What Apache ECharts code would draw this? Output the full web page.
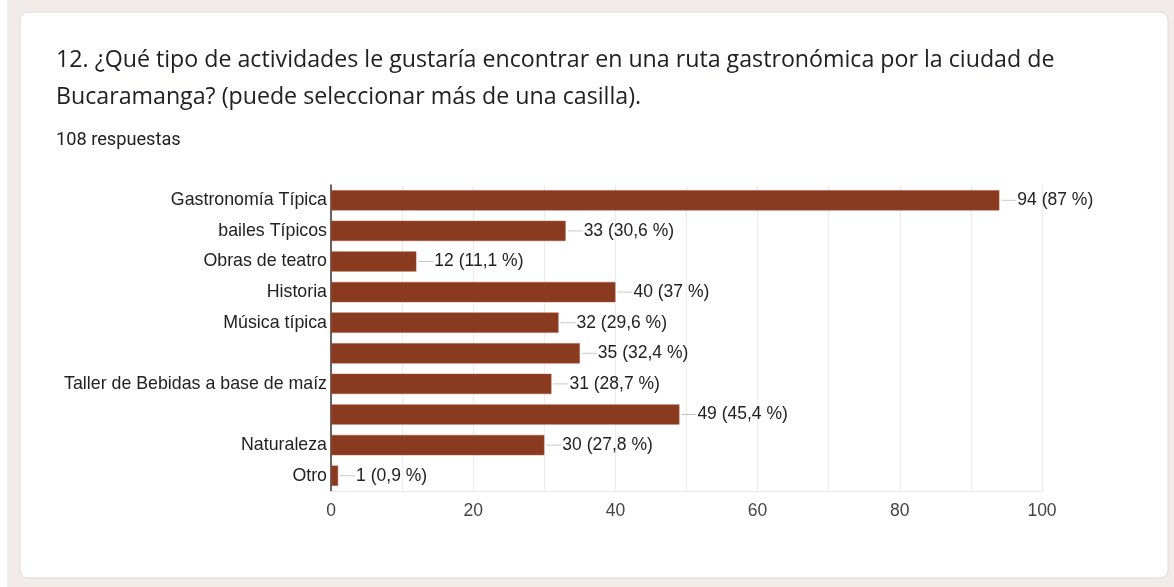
<!DOCTYPE html>
<html>
<head>
<meta charset="utf-8">
<script src="https://cdn.jsdelivr.net/npm/echarts@6/dist/echarts.min.js"></script>
<style>
html,body{margin:0;padding:0;background:#fff;}
#c{width:1174px;height:587px;}
</style>
</head>
<body>
<div id="c"></div>
<script>
var categories = ['Gastronomía Típica','bailes Típicos','Obras de teatro','Historia','Música típica','','Taller de Bebidas a base de maíz',' ','Naturaleza','Otro'];
var counts = [94,33,12,40,32,35,31,49,30,1];
var percents = ['87','30,6','11,1','37','29,6','32,4','28,7','45,4','27,8','0,9'];
var xTicks = [0,20,40,60,80,100];

var chart = echarts.init(document.getElementById('c'), null, {renderer:'canvas'});
var option = {
  animation:false,
  textStyle:{fontFamily:'Liberation Sans, Arial, sans-serif'},
  graphic:[
    {type:'rect',shape:{x:7,y:0,width:1167,height:587},style:{fill:'#f1ebe9'},z:-10,silent:true},
    {type:'rect',shape:{x:20,y:12,width:1148,height:566,r:8},style:{fill:'#ffffff',stroke:'#dadce0',lineWidth:1},z:-9,silent:true},
    {type:'text',left:56,top:42,style:{text:'12. ¿Qué tipo de actividades le gustaría encontrar en una ruta gastronómica por la ciudad de\nBucaramanga? (puede seleccionar más de una casilla).',fontFamily:'Open Sans',fontSize:23.2,lineHeight:37,fill:'#202124'}},
    {type:'text',left:56,top:131,style:{text:'108 respuestas',fontFamily:'Roboto',fontSize:18.2,fill:'#202124'}}
  ],
  grid:{left:331,right:132,top:185,bottom:96},
  xAxis:{
    type:'value',min:0,max:100,interval:10,
    axisLine:{show:true,lineStyle:{color:'#e6e6e6'}},
    axisTick:{show:false},
    axisLabel:{color:'#444',fontSize:17.5,margin:11,formatter:function(v){return xTicks.indexOf(v)>=0?String(v):'';}},
    splitLine:{show:true,lineStyle:{color:'#ececec'}}
  },
  yAxis:{
    type:'category',inverse:true,data:categories,
    axisLine:{show:true,lineStyle:{color:'#333',width:1.5}},
    axisTick:{show:false},
    axisLabel:{color:'#222',fontSize:17.8,margin:4}
  },
  series:[{
    type:'bar',
    data:counts,
    barCategoryGap:'34%',
    itemStyle:{color:'#8a3a1f',borderColor:'#a0543a',borderWidth:0.5},
    label:{
      show:true,position:'right',distance:2,
      formatter:function(p){return '{l|}{t|'+counts[p.dataIndex]+' ('+percents[p.dataIndex]+' %)}';},
      rich:{
        l:{width:15,height:1,backgroundColor:'#c8c8c8'},
        t:{fontSize:17.5,color:'#222',padding:[0,0,0,1]}
      }
    }
  }]
};
chart.setOption(option);
</script>
</body>
</html>
